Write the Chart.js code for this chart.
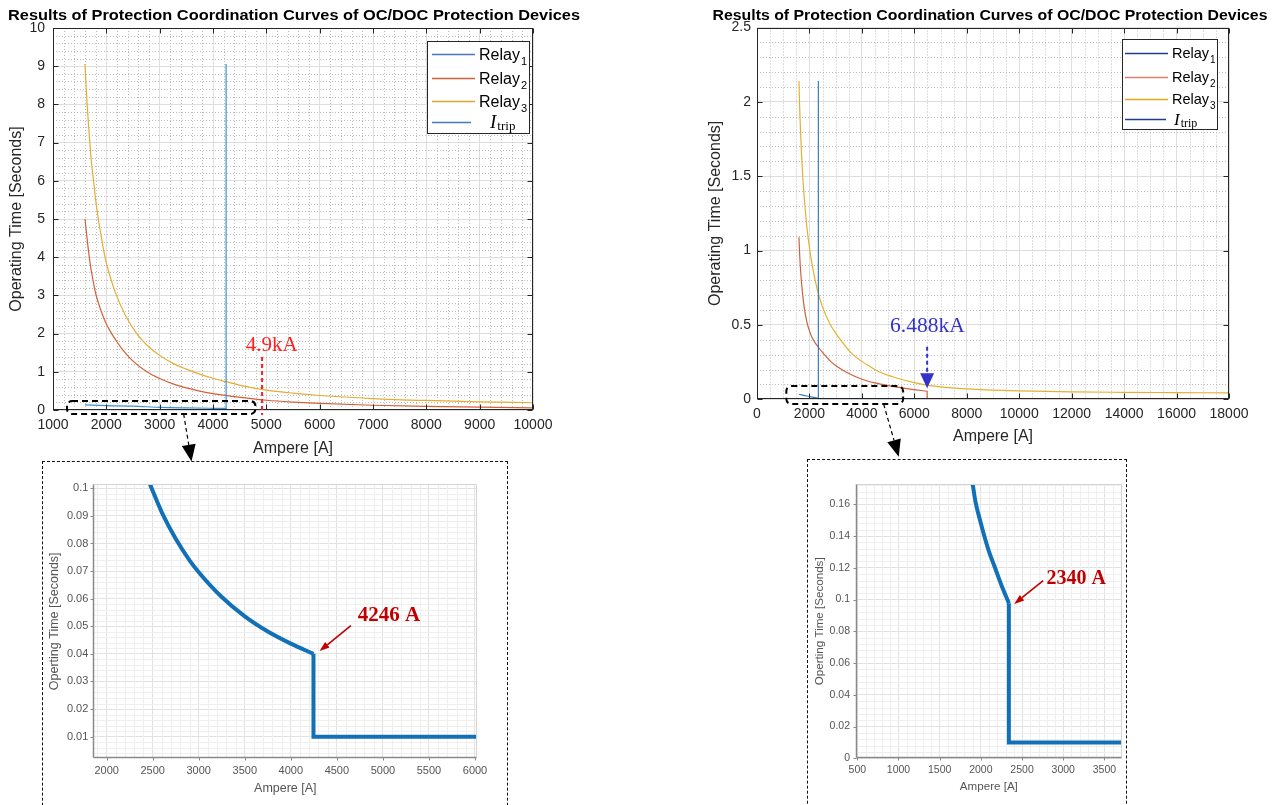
<!DOCTYPE html>
<html>
<head>
<meta charset="utf-8">
<title>Protection coordination curves</title>
<script src="https://cdn.jsdelivr.net/npm/chart.js@4.4.1/dist/chart.umd.min.js"></script>
<style>
  html, body { margin: 0; padding: 0; background: #fff; }
  body { width: 1280px; height: 805px; position: relative; overflow: hidden; }
  canvas { position: absolute; }
  .zoombox { position: absolute; border: 1.5px dashed #111; box-sizing: border-box; }
</style>
</head>
<body>
<div class="zoombox" style="left:42px;top:461px;width:466px;height:400px"></div>
<div class="zoombox" style="left:807px;top:459px;width:320px;height:400px"></div>
<canvas id="zoomLeft" width="470" height="335" style="left:30px;top:470px"></canvas>
<canvas id="zoomRight" width="320" height="335" style="left:810px;top:470px"></canvas>
<canvas id="mainLeft" width="590" height="470" style="left:0;top:0"></canvas>
<canvas id="mainRight" width="590" height="470" style="left:690px;top:0"></canvas>
<script>
const SANS = '"Liberation Sans", Arial, Helvetica, sans-serif';
const SERIF = '"Liberation Serif", "Times New Roman", serif';
const TITLE = 'Results of Protection Coordination Curves of OC/DOC Protection Devices';
const legendNames = ['Relay', 'Relay', 'Relay', 'I'];
const legendSubs = ['1', '2', '3', 'trip'];

// ---- top left: case up to 10 kA
const ampTicksL = [1000, 2000, 3000, 4000, 5000, 6000, 7000, 8000, 9000, 10000];
const secTicksL = [0, 1, 2, 3, 4, 5, 6, 7, 8, 9, 10];
const relay1L_amp = [1600, 2000, 2500, 3000, 3500, 4000, 4246];
const relay1L_sec = [0.135, 0.115, 0.1, 0.069, 0.054, 0.044, 0.04];
const relay1L_stepAmp = [4246, 4246, 10000];
const relay1L_stepSec = [0.04, 0.01, 0.01];
const relay2L_amp = [1600, 1650, 1700, 1750, 1800, 1900, 2000, 2100, 2200, 2300, 2500, 2760, 3000, 3250, 3500, 3750, 4000, 4264, 4600, 5000, 5500, 6000, 7000, 8000, 9000, 10000];
const relay2L_sec = [5.0, 4.35, 3.8, 3.4, 3.05, 2.6, 2.25, 2.0, 1.787, 1.586, 1.279, 1.0, 0.823, 0.684, 0.579, 0.496, 0.431, 0.375, 0.315, 0.255, 0.207, 0.172, 0.124, 0.094, 0.073, 0.057];
const relay3L_amp = [1600, 1620, 1640, 1665, 1690, 1720, 1760, 1800, 1850, 1910, 1975, 2070, 2190, 2350, 2570, 2800, 3000, 3250, 3500, 3750, 4000, 4264, 4600, 5000, 5500, 6000, 7000, 8000, 9000, 10000];
const relay3L_sec = [9.06, 8.5, 8.0, 7.5, 7.0, 6.5, 6.0, 5.5, 5.0, 4.5, 4.0, 3.5, 3.0, 2.5, 2.0, 1.65, 1.43, 1.22, 1.07, 0.94, 0.83, 0.735, 0.62, 0.52, 0.44, 0.38, 0.3, 0.25, 0.215, 0.19];
const tripL_amp = [4246, 4246];
const tripL_sec = [0, 9.06];

// ---- top right: case up to 18 kA
const ampTicksR = [0, 2000, 4000, 6000, 8000, 10000, 12000, 14000, 16000, 18000];
const secTicksR = [0, 0.5, 1, 1.5, 2, 2.5];
const relay1R_amp = [1600, 1900, 2100, 2340];
const relay1R_sec = [0.034, 0.022, 0.015, 0.008];
const relay1R_stepAmp = [2340, 2340, 6488];
const relay1R_stepSec = [0.008, 0.002, 0.002];
const relay2R_amp = [1600, 1625, 1650, 1700, 1750, 1800, 1900, 2000, 2100, 2232, 2340, 2500, 2806, 3040, 3444, 4000, 4500, 5000, 5580, 6000, 6488];
const relay2R_sec = [1.09, 0.98, 0.9, 0.78, 0.69, 0.62, 0.52, 0.46, 0.415, 0.376, 0.35, 0.315, 0.255, 0.222, 0.178, 0.135, 0.11, 0.092, 0.075, 0.065, 0.054];
const relay2R_stepAmp = [6488, 6488, 18000];
const relay2R_stepSec = [0.054, 0.002, 0.002];
const relay3R_amp = [1600, 1620, 1650, 1700, 1750, 1800, 1900, 2015, 2150, 2296, 2500, 2806, 3040, 3250, 3600, 3954, 4310, 4720, 5200, 5580, 6000, 6488, 7000, 8000, 9000, 10000, 12000, 14000, 16000, 18000];
const relay3R_sec = [2.14, 2.0, 1.85, 1.64, 1.48, 1.36, 1.16, 1.0, 0.86, 0.74, 0.62, 0.5, 0.435, 0.385, 0.31, 0.26, 0.22, 0.18, 0.15, 0.13, 0.112, 0.095, 0.083, 0.07, 0.062, 0.057, 0.05, 0.047, 0.045, 0.043];
const tripR_amp = [2340, 2340];
const tripR_sec = [0, 2.14];

// ---- bottom left: zoom of relay 1, first case
const ampTicksZL = [2000, 2500, 3000, 3500, 4000, 4500, 5000, 5500, 6000];
const secTicksZL = [0.01, 0.02, 0.03, 0.04, 0.05, 0.06, 0.07, 0.08, 0.09, 0.1];
const relay1ZL_amp = [2470, 2600, 2750, 2900, 3000, 3250, 3500, 3750, 4000, 4246];
const relay1ZL_sec = [0.1015, 0.0912, 0.0817, 0.0739, 0.0696, 0.0606, 0.0536, 0.0481, 0.0437, 0.04];
const relay1ZL_stepAmp = [4246, 4246, 6025];
const relay1ZL_stepSec = [0.04, 0.01, 0.01];

// ---- bottom right: zoom of relay 1, second case
const ampTicksZR = [500, 1000, 1500, 2000, 2500, 3000, 3500];
const secTicksZR = [0, 0.02, 0.04, 0.06, 0.08, 0.1, 0.12, 0.14, 0.16];
const relay1ZR_amp = [1901, 1937, 1990, 2042, 2100, 2172, 2250, 2340];
const relay1ZR_sec = [0.1726, 0.161, 0.15, 0.14, 0.13, 0.12, 0.109, 0.0977];
const relay1ZR_stepAmp = [2340, 2340, 3710];
const relay1ZR_stepSec = [0.0977, 0.01, 0.01];

function pts(xs, ys) { return xs.map((x, i) => ({ x: x, y: ys[i] })); }

function curve(xs, ys, color, width, smooth) {
  return {
    data: pts(xs, ys), borderColor: color, borderWidth: width, showLine: true,
    pointRadius: 0, fill: false, tension: 0,
    cubicInterpolationMode: smooth ? 'monotone' : 'default'
  };
}

function line(ctx, x1, y1, x2, y2) {
  ctx.beginPath(); ctx.moveTo(x1, y1); ctx.lineTo(x2, y2); ctx.stroke();
}

function arrow(ctx, x1, y1, x2, y2, head, width, dash) {
  const a = Math.atan2(y2 - y1, x2 - x1);
  const bx = x2 - head * Math.cos(a), by = y2 - head * Math.sin(a);
  ctx.setLineDash(dash || []);
  line(ctx, x1, y1, bx, by);
  ctx.setLineDash([]);
  const nx = -Math.sin(a) * width / 2, ny = Math.cos(a) * width / 2;
  ctx.beginPath();
  ctx.moveTo(x2, y2); ctx.lineTo(bx + nx, by + ny); ctx.lineTo(bx - nx, by - ny);
  ctx.closePath(); ctx.fill();
}

function dashedBox(ctx, x1, y1, x2, y2) {
  ctx.save();
  ctx.strokeStyle = '#000'; ctx.lineWidth = 2; ctx.setLineDash([6, 4]);
  ctx.beginPath(); ctx.roundRect(x1, y1, x2 - x1, y2 - y1, 5); ctx.stroke();
  ctx.restore();
}

// title is a little wider than the font in the source figure, so it is stretched to the same span
function drawTitle(ctx, cx, cy, span) {
  ctx.save();
  ctx.font = 'bold 15.5px ' + SANS;
  ctx.fillStyle = '#000'; ctx.textAlign = 'center'; ctx.textBaseline = 'middle';
  const w = ctx.measureText(TITLE).width;
  ctx.translate(cx, cy); ctx.scale(span / w, 1);
  ctx.fillText(TITLE, 0, 0);
  ctx.restore();
}

function near(v, list, step) { return list.some(t => Math.abs(t - v) < step * 1e-3); }

// dotted / faint minor grid, drawn under the curves
function drawMinor(chart, st) {
  const { ctx, chartArea: a, scales: { x, y } } = chart;
  ctx.save();
  ctx.beginPath(); ctx.rect(a.left, a.top, a.right - a.left, a.bottom - a.top); ctx.clip();
  ctx.strokeStyle = st.minorColor; ctx.lineWidth = 1; ctx.setLineDash(st.minorDash);
  for (let i = Math.ceil(x.min / st.xMinor); i * st.xMinor <= x.max; i++) {
    const v = i * st.xMinor;
    if (near(v, st.xTicks, st.xMinor)) continue;
    const p = Math.round(x.getPixelForValue(v)) + 0.5;
    line(ctx, p, a.top, p, a.bottom);
  }
  for (let i = Math.ceil(y.min / st.yMinor); i * st.yMinor <= y.max; i++) {
    const v = i * st.yMinor;
    if (near(v, st.yTicks, st.yMinor)) continue;
    const p = Math.round(y.getPixelForValue(v)) + 0.5;
    line(ctx, a.left, p, a.right, p);
  }
  ctx.restore();
}

function drawFrame(chart, st) {
  const { ctx, chartArea: a, scales: { x, y } } = chart;
  const L = Math.round(a.left) + 0.5, R = Math.round(a.right) - 0.5;
  const T = Math.round(a.top) + 0.5, B = Math.round(a.bottom) - 0.5;
  ctx.save();
  if (st.matlab) {
    ctx.strokeStyle = '#262626'; ctx.lineWidth = 1;
    ctx.strokeRect(L, T, R - L, B - T);
    st.xTicks.forEach(v => {
      const p = Math.round(x.getPixelForValue(v)) + 0.5;
      line(ctx, p, B, p, B - 5); line(ctx, p, T, p, T + 5);
    });
    st.yTicks.forEach(v => {
      const p = Math.round(y.getPixelForValue(v)) + 0.5;
      line(ctx, L, p, L + 5, p); line(ctx, R, p, R - 5, p);
    });
  } else {
    ctx.strokeStyle = '#d4d4d4'; ctx.lineWidth = 1;
    line(ctx, L, T, R, T); line(ctx, R, T, R, B);
    ctx.strokeStyle = '#8a8a8a'; ctx.lineWidth = 1.5;
    line(ctx, L, T, L, B); line(ctx, L, B, R, B);
    ctx.lineWidth = 1;
    st.xTicks.forEach(v => {
      const p = Math.round(x.getPixelForValue(v)) + 0.5;
      line(ctx, p, B, p, B + 3);
    });
    st.yTicks.forEach(v => {
      const p = Math.round(y.getPixelForValue(v)) + 0.5;
      line(ctx, L, p, L - 3, p);
    });
  }
  ctx.restore();
}

function drawLegend(ctx, L) {
  ctx.save();
  ctx.fillStyle = '#fff'; ctx.fillRect(L.x, L.y, L.w, L.h);
  ctx.strokeStyle = '#262626'; ctx.lineWidth = 1;
  ctx.strokeRect(L.x + 0.5, L.y + 0.5, L.w, L.h);
  ctx.textAlign = 'left'; ctx.textBaseline = 'alphabetic'; ctx.fillStyle = '#000';
  legendNames.forEach((name, i) => {
    const y = L.rows[i];
    ctx.strokeStyle = L.colors[i]; ctx.lineWidth = 1.3;
    line(ctx, L.lineX[0], y + 0.5, L.lineX[1] - (i === 3 ? L.tripShort : 0), y + 0.5);
    if (i < 3) {
      const base = y + L.font * 0.36;
      ctx.font = L.font + 'px ' + SANS;
      ctx.fillText(name, L.textX, base);
      const w = ctx.measureText(name).width;
      ctx.font = Math.round(L.font * 0.7) + 'px ' + SANS;
      ctx.fillText(legendSubs[i], L.textX + w + 1, base + L.font * 0.34);
    } else {
      const base = y + L.font * 0.4;
      ctx.font = 'italic ' + Math.round(L.font * 1.2) + 'px ' + SERIF;
      ctx.fillText(name, L.tripX, base);
      const w = ctx.measureText(name).width;
      ctx.font = Math.round(L.font * 0.8) + 'px ' + SERIF;
      ctx.fillText(legendSubs[i], L.tripX + w + 1, base + 2);
    }
  });
  ctx.restore();
}

function decor(st, extra) {
  return {
    id: 'decor',
    beforeDatasetsDraw(chart) { drawMinor(chart, st); },
    afterDatasetsDraw(chart) { drawFrame(chart, st); },
    afterDraw(chart) { if (extra) extra(chart); }
  };
}

function scaleSet(o) {
  const fixTicks = list => s => { s.ticks = list.map(v => ({ value: v })); };
  const label = v => String(Math.round(v * 1e6) / 1e6);
  return {
    x: {
      type: 'linear', min: o.xMin, max: o.xMax,
      afterBuildTicks: fixTicks(o.xTicks),
      afterFit: s => { s.height = o.xHeight; },
      border: { display: false },
      grid: { color: o.grid, drawTicks: false },
      ticks: { font: { family: SANS, size: o.tick }, color: o.ink, padding: o.xTickPad,
               maxRotation: 0, autoSkip: false, callback: label },
      title: { display: true, text: 'Ampere [A]', font: { family: SANS, size: o.label },
               color: o.ink, padding: { top: 0, bottom: o.xTitlePad } }
    },
    y: {
      type: 'linear', min: o.yMin, max: o.yMax,
      afterBuildTicks: fixTicks(o.yTicks),
      afterFit: s => { s.width = o.yWidth; },
      border: { display: false },
      grid: { color: o.grid, drawTicks: false },
      ticks: { font: { family: SANS, size: o.tick }, color: o.ink, padding: o.yTickPad,
               autoSkip: false, callback: label },
      title: { display: true, text: o.yTitle, font: { family: SANS, size: o.label },
               color: o.ink, padding: { top: o.yTitlePad, bottom: 0 } }
    }
  };
}

function makeChart(id, datasets, scales, padding, plugin) {
  return new Chart(document.getElementById(id), {
    type: 'scatter',
    data: { datasets: datasets },
    options: {
      responsive: false, animation: false, events: [],
      layout: { padding: padding },
      plugins: { legend: { display: false }, tooltip: { enabled: false }, title: { display: false } },
      scales: scales
    },
    plugins: [plugin]
  });
}

// ---------------- top left
makeChart('mainLeft', [
  curve(tripL_amp, tripL_sec, '#3d8fd6', 1.2, false),
  curve(relay1L_amp, relay1L_sec, '#3d8fd6', 1.2, true),
  curve(relay1L_stepAmp, relay1L_stepSec, '#3d8fd6', 1.2, false),
  curve(relay2L_amp, relay2L_sec, '#d4603a', 1.2, true),
  curve(relay3L_amp, relay3L_sec, '#e4ad32', 1.2, true)
], scaleSet({
  xMin: 1000, xMax: 10000, yMin: 0, yMax: 10, xTicks: ampTicksL, yTicks: secTicksL,
  xHeight: 60, yWidth: 53, grid: '#dedede', ink: '#262626', tick: 14, label: 16,
  xTickPad: 7, xTitlePad: 12, yTickPad: 8, yTitlePad: 6.5, yTitle: 'Operating Time [Seconds]'
}), { top: 28, right: 57, left: 0, bottom: 0 },
decor({ matlab: true, xTicks: ampTicksL, yTicks: secTicksL, xMinor: 200, yMinor: 0.2,
        minorColor: '#bdbdbd', minorDash: [1, 2] }, chart => {
  const { ctx } = chart;
  const X = v => chart.scales.x.getPixelForValue(v), Y = v => chart.scales.y.getPixelForValue(v);
  drawTitle(ctx, 294, 16, 572);
  drawLegend(ctx, { x: 427, y: 41, w: 102, h: 92, lineX: [432, 475], textX: 479, tripX: 490, tripShort: 4,
                    rows: [54, 78, 101, 122], font: 16,
                    colors: ['#4a78bf', '#d4603a', '#d9a62e', '#4a78bf'] });
  ctx.save();
  ctx.strokeStyle = '#ff1f1f'; ctx.lineWidth = 2; ctx.setLineDash([4, 3]);
  line(ctx, X(4920), Y(1.39), X(4920), Y(-0.13));
  ctx.setLineDash([]);
  ctx.fillStyle = '#ff1f1f'; ctx.font = '21px ' + SERIF; ctx.textAlign = 'center'; ctx.textBaseline = 'middle';
  ctx.fillText('4.9kA', X(5100), Y(1.7));
  dashedBox(ctx, X(1263), Y(0.236), X(4795), Y(-0.105));
  ctx.strokeStyle = '#000'; ctx.fillStyle = '#000'; ctx.lineWidth = 1.2;
  arrow(ctx, X(3450), Y(-0.105), X(3597), Y(-1.35), 17, 14, [4, 3]);
  ctx.restore();
}));

// ---------------- top right
makeChart('mainRight', [
  curve(tripR_amp, tripR_sec, '#3a7cc0', 1.2, false),
  curve(relay1R_amp, relay1R_sec, '#3a7cc0', 1.2, true),
  curve(relay1R_stepAmp, relay1R_stepSec, '#3a7cc0', 1.2, false),
  curve(relay2R_amp, relay2R_sec, '#d0603e', 1.2, true),
  curve(relay2R_stepAmp, relay2R_stepSec, '#d0603e', 1.2, false),
  curve(relay3R_amp, relay3R_sec, '#e5b030', 1.2, true)
], scaleSet({
  xMin: 0, xMax: 18000, yMin: 0, yMax: 2.5, xTicks: ampTicksR, yTicks: secTicksR,
  xHeight: 70.7, yWidth: 67, grid: '#dedede', ink: '#262626', tick: 14, label: 16,
  xTickPad: 6, xTitlePad: 23.4, yTickPad: 6, yTitlePad: 16.4, yTitle: 'Operating Time [Seconds]'
}), { top: 27.5, right: 51, left: 0, bottom: 0 },
decor({ matlab: true, xTicks: ampTicksR, yTicks: secTicksR, xMinor: 500, yMinor: 0.1,
        minorColor: '#bdbdbd', minorDash: [1, 2] }, chart => {
  const { ctx } = chart;
  const X = v => chart.scales.x.getPixelForValue(v), Y = v => chart.scales.y.getPixelForValue(v);
  drawTitle(ctx, 300, 16, 555);
  drawLegend(ctx, { x: 432, y: 39, w: 95, h: 90, lineX: [435, 478], textX: 482, tripX: 484, tripShort: 2,
                    rows: [53, 77, 99, 119], font: 14.5,
                    colors: ['#203f8a', '#d98070', '#e0a820', '#203f8a'] });
  ctx.save();
  ctx.strokeStyle = '#3333cc'; ctx.fillStyle = '#3333cc'; ctx.lineWidth = 2;
  arrow(ctx, X(6488), Y(0.354), X(6488), Y(0.074), 15, 14, [4, 3]);
  ctx.font = '21.5px ' + SERIF; ctx.textAlign = 'center'; ctx.textBaseline = 'middle';
  ctx.fillText('6.488kA', X(6500), Y(0.493));
  dashedBox(ctx, X(1118), Y(0.089), X(5573), Y(-0.032));
  ctx.strokeStyle = '#000'; ctx.fillStyle = '#000'; ctx.lineWidth = 1.2;
  arrow(ctx, X(4832), Y(-0.034), X(5405), Y(-0.386), 17, 14, [4, 3]);
  ctx.restore();
}));

// ---------------- bottom left (zoom)
makeChart('zoomLeft', [
  curve(relay1ZL_amp, relay1ZL_sec, '#1270b8', 4, true),
  curve(relay1ZL_stepAmp, relay1ZL_stepSec, '#1270b8', 4, false)
], scaleSet({
  xMin: 1855, xMax: 6025, yMin: 0.00215, yMax: 0.10145, xTicks: ampTicksZL, yTicks: secTicksZL,
  xHeight: 46.7, yWidth: 63.3, grid: '#e2e2e2', ink: '#555', tick: 11, label: 12.5,
  xTickPad: 6, xTitlePad: 9, yTickPad: 5, yTitlePad: 17.5, yTitle: 'Operting Time [Seconds]'
}), { top: 14.3, right: 22.7, left: 0, bottom: 0 },
decor({ matlab: false, xTicks: ampTicksZL, yTicks: secTicksZL, xMinor: 100, yMinor: 0.002,
        minorColor: '#efefef', minorDash: [] }, chart => {
  const { ctx } = chart;
  const X = v => chart.scales.x.getPixelForValue(v), Y = v => chart.scales.y.getPixelForValue(v);
  ctx.save();
  ctx.strokeStyle = '#c00000'; ctx.fillStyle = '#c00000'; ctx.lineWidth = 1.6;
  arrow(ctx, X(4652), Y(0.0502), X(4312), Y(0.041), 10, 7);
  ctx.font = 'bold 21px ' + SERIF; ctx.textAlign = 'center'; ctx.textBaseline = 'middle';
  ctx.fillText('4246 A', X(5065), Y(0.0537));
  ctx.restore();
}));

// ---------------- bottom right (zoom)
makeChart('zoomRight', [
  curve(relay1ZR_amp, relay1ZR_sec, '#1270b8', 4, true),
  curve(relay1ZR_stepAmp, relay1ZR_stepSec, '#1270b8', 4, false)
], scaleSet({
  xMin: 484, xMax: 3710, yMin: 0, yMax: 0.1726, xTicks: ampTicksZR, yTicks: secTicksZR,
  xHeight: 46.7, yWidth: 46, grid: '#e2e2e2', ink: '#555', tick: 10.5, label: 11.6,
  xTickPad: 6, xTitlePad: 11.4, yTickPad: 6, yTitlePad: 3, yTitle: 'Operting Time [Seconds]'
}), { top: 14.3, right: 8.3, left: 0, bottom: 0 },
decor({ matlab: false, xTicks: ampTicksZR, yTicks: secTicksZR, xMinor: 100, yMinor: 0.004,
        minorColor: '#efefef', minorDash: [] }, chart => {
  const { ctx } = chart;
  const X = v => chart.scales.x.getPixelForValue(v), Y = v => chart.scales.y.getPixelForValue(v);
  ctx.save();
  ctx.strokeStyle = '#c00000'; ctx.fillStyle = '#c00000'; ctx.lineWidth = 1.6;
  arrow(ctx, X(2757), Y(0.1119), X(2405), Y(0.0972), 10, 7);
  ctx.font = 'bold 20px ' + SERIF; ctx.textAlign = 'center'; ctx.textBaseline = 'middle';
  ctx.fillText('2340 A', X(3158), Y(0.1128));
  ctx.restore();
}));
</script>
</body>
</html>
